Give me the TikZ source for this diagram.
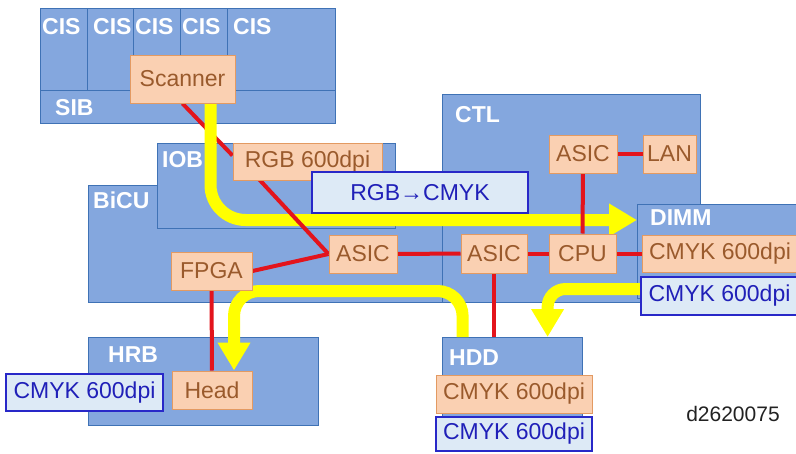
\documentclass[tikz,border=0pt]{standalone}
\usepackage{fontspec}
\setmainfont{Liberation Sans}
\usetikzlibrary{arrows.meta}
\definecolor{boardfill}{HTML}{84A7DE}
\definecolor{boardline}{HTML}{3F72B5}
\definecolor{partfill}{HTML}{FAD0B2}
\definecolor{partline}{HTML}{E39A62}
\definecolor{parttext}{HTML}{9A5A2C}
\definecolor{datafill}{HTML}{DDEAF6}
\definecolor{dataline}{HTML}{2828C8}
\definecolor{datatext}{HTML}{2020B8}
\definecolor{wirered}{HTML}{E3141C}
\definecolor{flowyellow}{HTML}{FFFF00}
\definecolor{docid}{HTML}{222222}
\pgfdeclarelayer{board}
\pgfdeclarelayer{wirelow}
\pgfdeclarelayer{flow}
\pgfdeclarelayer{wire}
\pgfsetlayers{board,wirelow,flow,wire,main}
\newcommand{\partfont}{\fontsize{23}{26}\selectfont}
\newcommand{\boardfont}{\fontsize{23}{26}\selectfont\bfseries}
\tikzset{
  board/.style={draw=boardline,fill=boardfill,line width=1.2pt,inner sep=0pt},
  boardtxt/.style={text=white,font=\boardfont,inner sep=0pt,anchor=west},
  part/.style={draw=partline,fill=partfill,text=parttext,font=\partfont,inner sep=0pt,line width=1pt},
  data/.style={draw=dataline,fill=datafill,text=datatext,font=\partfont,inner sep=0pt,line width=1.2pt},
  wire/.style={draw=wirered,line width=4pt},
  flow/.style={draw=flowyellow,line width=12pt,rounded corners=25pt,-{Triangle[length=28pt,width=31pt]}}
}

\begin{document}
\begin{tikzpicture}[x=1pt,y=-1pt]
  \useasboundingbox (0,0) rectangle (796,453);
  \begin{pgfonlayer}{board}
    \fill[white] (0,0) rectangle (796,453);
    % scanner unit
    \foreach \xa/\xb/\xt [count=\i] in {40/87/42,87/133/93,133/180/135,180/227/182,227/335/233}{
      \node[board,anchor=north west,minimum width=\xb-\xa,minimum height=82] (cis\i) at (\xa,8) {};
      \node[boardtxt] (cist\i) at (\xt,27) {CIS};
    }
    \node[board,anchor=north west,minimum width=295,minimum height=33] (sib) at (40,90) {};
    \node[boardtxt] (sibt) at (55,108) {SIB};
    % controller boards
    \node[board,anchor=north west,minimum width=357,minimum height=117] (bicu) at (88,185) {};
    \node[boardtxt] (bicut) at (93,200) {BiCU};
    \node[board,anchor=north west,minimum width=238,minimum height=85] (iob) at (157,143) {};
    \node[boardtxt] (iobt) at (162,160) {IOB};
    \node[board,anchor=north west,minimum width=258,minimum height=208] (ctl) at (442,94) {};
    \node[boardtxt] (ctlt) at (455,115) {CTL};
    \node[board,anchor=north west,minimum width=165,minimum height=94] (dimm) at (637,204) {};
    \node[boardtxt] (dimmt) at (650,218) {DIMM};
    \node[board,anchor=north west,minimum width=230,minimum height=88] (hrb) at (88,337) {};
    \node[boardtxt] (hrbt) at (108,355) {HRB};
    \node[board,anchor=north west,minimum width=140,minimum height=83] (hdd) at (442,337) {};
    \node[boardtxt] (hddt) at (449,358) {HDD};
  \end{pgfonlayer}

  \node[part,minimum width=105,minimum height=48] (scanner) at (182.5,79) {Scanner};
  \node[part,minimum width=149,minimum height=37] (rgb) at (307.5,161.5) {RGB 600dpi};
  \node[part,minimum width=68,minimum height=38] (asicb) at (363,254) {ASIC};
  \node[part,minimum width=81,minimum height=38] (fpga) at (211.5,271) {FPGA};
  \node[part,minimum width=66,minimum height=39] (asicc) at (494,253.5) {ASIC};
  \node[part,minimum width=67,minimum height=39] (cpu) at (582.5,253.5) {CPU};
  \node[part,minimum width=68,minimum height=38] (asict) at (583,154) {ASIC};
  \node[part,minimum width=53,minimum height=38] (lan) at (669.5,154) {LAN};
  \node[part,minimum width=156,minimum height=37] (dimmo) at (720,253.5) {CMYK 600dpi};
  \node[part,minimum width=80,minimum height=38] (head) at (212,390) {Head};
  \node[part,minimum width=156,minimum height=38] (hddo) at (514,394) {CMYK 600dpi};

  \node[data,minimum width=216,minimum height=41] (conv) at (420,192.5) {RGB→CMYK};
  \node[data,minimum width=157,minimum height=38] (dimmb) at (719.5,296) {CMYK 600dpi};
  \node[data,minimum width=157,minimum height=37] (headb) at (84.5,392.5) {CMYK 600dpi};
  \node[data,minimum width=156,minimum height=34] (hddb) at (514,434) {CMYK 600dpi};
  \node[font=\fontsize{21}{24}\selectfont,text=docid] (figid) at (733,414) {d2620075};

  \begin{pgfonlayer}{wirelow}
    \draw[wire] (scanner.south) -- ([yshift=6pt]rgb.west);
  \end{pgfonlayer}
  \begin{pgfonlayer}{flow}
    \draw[flow,rounded corners=35pt] ([xshift=28pt]scanner.south) |- ([yshift=-16pt]dimm.north west);
    \draw[flow,rounded corners=18pt] ([yshift=7pt]dimmb.west) -| ([xshift=35pt]hdd.north);
    \draw[flow] ([xshift=-50pt]hdd.north) -- ++(0,-46) -| ([xshift=22pt]head.north);
  \end{pgfonlayer}
  \begin{pgfonlayer}{wire}
    \draw[wire] ([xshift=10pt]rgb.west) -- (asicb.west);
    \draw[wire] (fpga.east) -- (asicb.west);
    \draw[wire] (asicb) -- (asicc);
    \draw[wire] (asicc) -- (cpu);
    \draw[wire] (cpu) -- (dimmo);
    \draw[wire] (cpu) -- (asict);
    \draw[wire] (asict) -- (lan);
    \draw[wire] (fpga) -- (head);
    \draw[wire] (asicc.south) -- (asicc.south |- hdd.north);
  \end{pgfonlayer}
\end{tikzpicture}
\end{document}
